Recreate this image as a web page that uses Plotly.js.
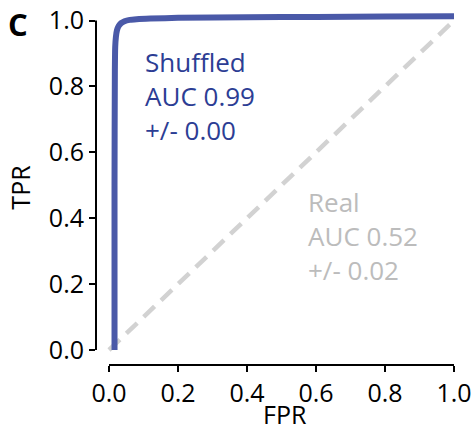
<!DOCTYPE html>
<html>
<head>
<meta charset="utf-8">
<script src="https://cdn.plot.ly/plotly-3.0.1.min.js"></script>
<style>
html,body{margin:0;padding:0;background:#fff;}
#chart{width:472px;height:432px;}
</style>
</head>
<body>
<div id="chart"></div>
<script>
// ROC curve for shuffled labels
const shuffledFPR = [0.016, 0.016, 0.017, 0.018, 0.020, 0.023, 0.028, 0.035, 0.045, 0.06, 0.08, 0.12, 0.2, 0.4, 0.6, 0.8, 1.0];
const shuffledTPR = [0.0, 0.5, 0.85, 0.92, 0.95, 0.97, 0.983, 0.992, 0.998, 1.002, 1.004, 1.006, 1.008, 1.010, 1.011, 1.012, 1.013];
// Chance / real curve shown as diagonal
const realFPR = [0, 1];
const realTPR = [0, 1];
const tickValues = [0, 0.2, 0.4, 0.6, 0.8, 1.0];
const tickLabels = ["0.0", "0.2", "0.4", "0.6", "0.8", "1.0"];
const shuffledLabel = ["Shuffled", "AUC 0.99", "+/- 0.00"];
const realLabel = ["Real", "AUC 0.52", "+/- 0.02"];
const xTitle = 'FPR';
const yTitle = 'TPR';

const FONT = '"Open Sans", "Liberation Sans", sans-serif';
const BLUE_LINE = '#4a59a8';
const BLUE_TEXT = '#2c3d94';
const GRAY_TEXT = '#bcbcbc';
const GRAY_LINE = '#d2d2d2';

const traces = [
  {
    x: realFPR, y: realTPR, mode: 'lines', type: 'scatter',
    line: {color: GRAY_LINE, width: 4.5, dash: '15px,9px'},
    hoverinfo: 'skip', showlegend: false
  },
  {
    x: shuffledFPR, y: shuffledTPR, mode: 'lines', type: 'scatter',
    line: {color: BLUE_LINE, width: 6, shape: 'spline', smoothing: 0.6},
    hoverinfo: 'skip', showlegend: false
  }
];

const layout = {
  width: 472, height: 432,
  margin: {l: 96, r: 11, t: 10, b: 67},
  paper_bgcolor: '#fff', plot_bgcolor: '#fff',
  font: {family: FONT, color: '#000', size: 25},
  xaxis: {
    range: [-13/345, 1 + 7/345],
    showgrid: false, zeroline: false, showline: false,
    tickmode: 'array', tickvals: tickValues, ticktext: tickLabels,
    ticks: 'outside', ticklen: 6, tickwidth: 2, tickcolor: '#000',
    tickfont: {family: FONT, size: 25, color: '#000'}
  },
  yaxis: {
    range: [-15/329.5, 340/329.5],
    showgrid: false, zeroline: false, showline: false,
    tickmode: 'array', tickvals: tickValues, ticktext: tickLabels,
    ticks: 'outside', ticklen: 6, tickwidth: 2, tickcolor: '#000',
    tickfont: {family: FONT, size: 25, color: '#000'},
    title: {text: yTitle, font: {family: FONT, size: 25, color: '#000'}, standoff: 11}
  },
  shapes: [
    {type: 'line', xref: 'paper', yref: 'y', x0: 0, x1: 0, y0: 0, y1: 1,
     line: {color: '#000', width: 2}},
    {type: 'line', xref: 'x', yref: 'paper', x0: 0, x1: 1, y0: 0, y1: 0,
     line: {color: '#000', width: 2}}
  ],
  annotations: [
    {text: xTitle, xref: 'x', yref: 'paper', x: 0.51, y: (365 - 431.5) / 355,
     xanchor: 'center', yanchor: 'bottom', showarrow: false, borderpad: 0,
     font: {family: FONT, size: 25, color: '#000'}},
    {text: shuffledLabel.join('<br>'), xref: 'x', yref: 'y', x: 0.098, y: 0.77,
     xanchor: 'left', yanchor: 'middle', align: 'left', showarrow: false,
     font: {family: FONT, size: 26, color: BLUE_TEXT}},
    {text: realLabel.join('<br>'), xref: 'x', yref: 'y', x: 0.572, y: 0.345,
     xanchor: 'left', yanchor: 'middle', align: 'left', showarrow: false,
     font: {family: FONT, size: 26, color: GRAY_TEXT}},
    {text: '<b>C</b>', xref: 'paper', yref: 'paper', x: (17.5 - 96) / 365, y: (365 - 1) / 355,
     xanchor: 'center', yanchor: 'top', showarrow: false,
     font: {family: FONT, size: 31, color: '#000'}}
  ]
};

Plotly.newPlot('chart', traces, layout, {displayModeBar: false, staticPlot: true});
</script>
</body>
</html>
